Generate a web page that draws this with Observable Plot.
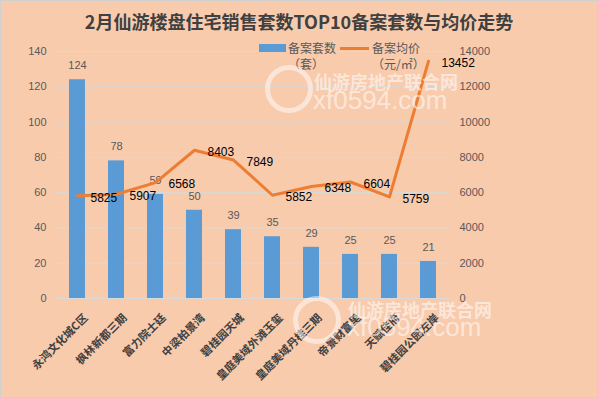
<!DOCTYPE html>
<html><head><meta charset="utf-8">
<script src="https://cdn.jsdelivr.net/npm/d3@7"></script>
<script src="https://cdn.jsdelivr.net/npm/@observablehq/plot@0.6"></script>
<style>
html,body{margin:0;padding:0;background:#fff;}
#wrap{position:relative;width:596px;height:396px;border:1px solid #d0d0d0;background:#F8CBAD;overflow:hidden;font-family:'Noto Sans CJK SC','Liberation Sans',sans-serif;}
#title{position:absolute;left:0;top:7px;width:596px;text-align:center;font-size:18px;font-weight:bold;color:#404040;font-family:'Noto Sans CJK SC',serif;letter-spacing:0px;}
#chart{position:absolute;left:0;top:0;}
.leg{position:absolute;font-size:12px;color:#595959;line-height:16px;}
.wm{position:absolute;color:rgba(255,255,255,0.55);white-space:nowrap;}
.wmt{font-weight:bold;font-size:18px;font-family:'Noto Sans CJK SC',sans-serif;}
.wmu{font-size:26px;font-family:'Liberation Sans',sans-serif;}
.circ{position:absolute;border:5px solid rgba(255,255,255,0.5);border-radius:50%;}
</style></head>
<body>
<div id="wrap">
  <div id="title">2月仙游楼盘住宅销售套数TOP10备案套数与均价走势</div>
  <div id="chart"></div>
  <div class="leg" style="left:258px;top:43px;width:27px;height:8px;background:#5B9BD5;"></div>
  <div class="leg" style="left:287px;top:39px;">备案套数<br>（套）</div>
  <div class="leg" style="left:339px;top:46px;width:29px;height:3px;background:#ED7D31;"></div>
  <div class="leg" style="left:371px;top:39px;">备案均价<br>（元/㎡）</div>
  <div class="circ" style="left:264px;top:64px;width:38px;height:38px;"></div>
  <div class="wm wmt" style="left:313px;top:67px;">仙游房地产联合网</div>
  <div class="wm wmu" style="left:312px;top:84px;">xf0594.com</div>
  <div class="circ" style="left:292px;top:295px;width:38px;height:38px;"></div>
  <div class="wm wmt" style="left:347px;top:295px;">仙游房地产联合网</div>
  <div class="wm wmu" style="left:346px;top:311px;">xf0594.com</div>
</div>
<script>
const names = ["永鸿文化城C区","枫林新都三期","富力院士廷","中梁柏景湾","碧桂园天城","皇庭美域外滩玉玺","皇庭美域丹桂三期","帝景财富里","天赋佳府","碧桂园公园左岸"];
const counts = [124,78,59,50,39,35,29,25,25,21];
const prices = [5825,5907,6568,8403,7849,5852,6348,6604,5759,13452];
const leftTicks = [0,20,40,60,80,100,120,140];
const rightTicks = [0,2000,4000,6000,8000,10000,12000,14000];

const data = names.map((n,i)=>({name:n,count:counts[i],price:prices[i]}));
const ratio = 100; // right axis value per left axis unit

const chart = Plot.plot({
  width: 596,
  height: 396,
  marginLeft: 54,
  marginRight: 147,
  marginTop: 50,
  marginBottom: 99,
  style: {background: "transparent", color: "#595959", fontFamily: "'Liberation Sans','Noto Sans CJK SC',sans-serif", fontSize: "11px", overflow: "visible"},
  x: {domain: names, paddingInner: 0.6, paddingOuter: 0.3, axis: null},
  y: {domain: [0, 140], axis: null},
  marks: [
    Plot.gridY(leftTicks, {stroke: "#d9d9d9", strokeOpacity: 1, strokeWidth: 1}),
    Plot.axisY(leftTicks, {anchor: "left", tickSize: 0, tickPadding: 9, label: null, fontSize: 11}),
    Plot.axisY(rightTicks.map(v => v / ratio), {anchor: "right", tickSize: 0, tickPadding: 9, label: null, fontSize: 11, tickFormat: d => String(Math.round(d * ratio))}),
    Plot.barY(data, {x: "name", y: "count", fill: "#5B9BD5"}),
    Plot.text(data, {x: "name", y: "count", text: d => String(d.count), dy: -14, fill: "#595959", fontSize: 11}),
    Plot.line(data, {x: "name", y: d => d.price / ratio, stroke: "#ED7D31", strokeWidth: 3, strokeLinejoin: "round"}),
    Plot.text(data, {x: "name", y: d => d.price / ratio, text: d => String(d.price), textAnchor: "start", dx: 13, dy: 2, fill: "#000000", fontSize: 12}),
    Plot.text(data, {x: "name", frameAnchor: "bottom", text: "name", rotate: -45, textAnchor: "end", dx: 11, dy: 20, fill: "#404040", fontSize: 11, fontWeight: "bold", fontFamily: "'Noto Sans CJK SC',sans-serif"})
  ]
});
document.getElementById("chart").appendChild(chart);
</script>
</body></html>
